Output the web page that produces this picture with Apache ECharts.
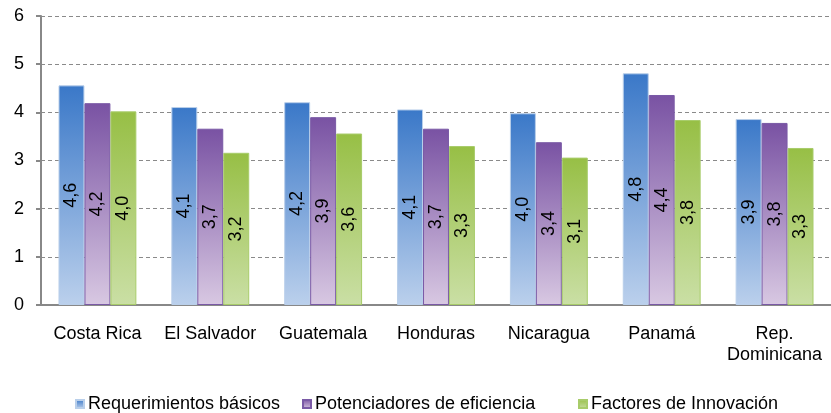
<!DOCTYPE html>
<html>
<head>
<meta charset="utf-8">
<script src="https://cdn.jsdelivr.net/npm/echarts@6/dist/echarts.min.js"></script>
<style>
  html, body { margin: 0; padding: 0; background: #fff; }
  #chart { width: 831px; height: 413px; }
</style>
</head>
<body>
<div id="chart"></div>
<script>
  // datos
  var paises = ['Costa Rica', 'El Salvador', 'Guatemala', 'Honduras', 'Nicaragua', 'Panamá', 'Rep.\nDominicana'];
  var requerimientos = [4.56, 4.11, 4.21, 4.06, 3.98, 4.81, 3.86];
  var potenciadores = [4.19, 3.66, 3.90, 3.66, 3.38, 4.36, 3.78];
  var innovacion = [4.02, 3.16, 3.56, 3.30, 3.06, 3.84, 3.26];
  var ticksY = [0, 1, 2, 3, 4, 5, 6];

  var nombres = ['Requerimientos básicos', 'Potenciadores de eficiencia', 'Factores de Innovación'];
  var colores = [
    ['#3A78C8', '#BBD0EC', '#B9CFEA'],
    ['#7952A3', '#D8C8E2', '#7A5AA6'],
    ['#97BF45', '#CADFA5', '#A8CC6A']
  ];

  function grad(top, bottom) {
    return {
      type: 'linear', x: 0, y: 0, x2: 0, y2: 1,
      colorStops: [{ offset: 0, color: top }, { offset: 1, color: bottom }]
    };
  }

  function serie(i, datos) {
    return {
      name: nombres[i],
      type: 'bar',
      data: datos,
      barGap: '0%',
      barCategoryGap: '31%',
      itemStyle: { color: grad(colores[i][0], colores[i][1]), borderColor: colores[i][2], borderWidth: 1 },
      label: {
        show: true,
        position: 'inside',
        rotate: 90,
        color: '#000',
        fontFamily: 'Liberation Sans',
        fontSize: 18,
        formatter: function (p) { return p.value.toFixed(1).replace('.', ','); }
      }
    };
  }

  // una leyenda por serie para colocarlas como en el original
  var leyendaX = [70, 297, 573];
  var leyendas = nombres.map(function (n, i) {
    return {
      left: leyendaX[i], top: 390,
      icon: 'rect', itemWidth: 8, itemHeight: 8,
      textStyle: { fontSize: 18, color: '#000', padding: [0, 0, 0, -1] },
      data: [{ name: n, itemStyle: { color: grad(colores[i][0], colores[i][1]) } }]
    };
  });

  var chart = echarts.init(document.getElementById('chart'));
  chart.setOption({
    animation: false,
    textStyle: { fontFamily: 'Liberation Sans' },
    grid: { left: 41, top: 16, right: -5, bottom: 108 },
    legend: leyendas,
    xAxis: {
      type: 'category',
      data: paises,
      axisLine: { lineStyle: { color: '#888', width: 2 } },
      axisTick: { length: 5, lineStyle: { color: '#888', width: 2 } },
      axisLabel: { color: '#000', fontSize: 18, margin: 19, lineHeight: 21, interval: 0 }
    },
    yAxis: {
      type: 'value',
      min: ticksY[0], max: ticksY[ticksY.length - 1], interval: 1,
      axisLine: { show: true, lineStyle: { color: '#888', width: 2 } },
      axisTick: { show: true, length: 5, lineStyle: { color: '#888', width: 2 } },
      axisLabel: { color: '#000', fontSize: 18, margin: 17 },
      splitLine: { lineStyle: { color: '#8a8a8a', type: [4, 3], width: 1 } }
    },
    series: [
      serie(0, requerimientos),
      serie(1, potenciadores),
      serie(2, innovacion)
    ]
  });
</script>
</body>
</html>
